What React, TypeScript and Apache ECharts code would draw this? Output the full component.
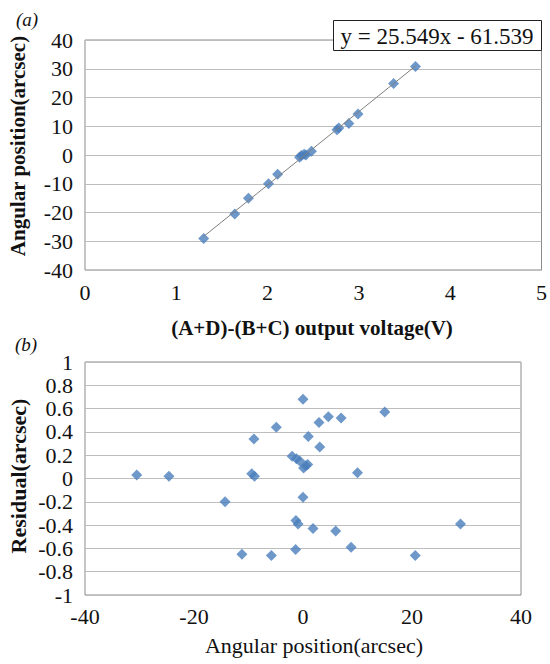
import React, { useEffect, useRef } from "react";
import * as echarts from "echarts";

// Panel (a): output voltage vs angular position
const voltage = [1.30, 1.64, 1.79, 2.01, 2.11, 2.35, 2.37, 2.40, 2.42, 2.48, 2.76, 2.78, 2.89, 2.99, 3.38, 3.62];
const angle = [-29.0, -20.5, -15.0, -10.0, -6.7, -0.8, -0.2, 0.3, 0.0, 1.3, 8.8, 9.4, 11.0, 14.3, 24.9, 30.8];
// Linear fit y = slope * x + intercept
const fitSlope = 25.549;
const fitIntercept = -61.539;
const fitRange = [1.30, 3.62];
const equationText = "y = 25.549x - 61.539";

// Panel (b): residuals
const angPos = [-30.5, -24.6, -14.3, -11.2, -9.0, -9.4, -8.9, -5.8, -4.9, -1.35, -2.0, -1.2, -0.6, -1.3, -0.9, 0.0, 0.0, 0.1, 0.86, 0.5, 0.98, 1.84, 2.94, 3.07, 4.66, 6.0, 7.0, 8.83, 10.0, 15.0, 20.6, 28.9];
const residual = [0.03, 0.02, -0.2, -0.65, 0.34, 0.04, 0.02, -0.66, 0.44, -0.61, 0.19, 0.17, 0.15, -0.36, -0.39, 0.68, -0.16, 0.09, 0.12, 0.11, 0.36, -0.43, 0.48, 0.27, 0.53, -0.45, 0.52, -0.59, 0.05, 0.57, -0.66, -0.39];

const SERIF = "Liberation Serif";
const MARK = "#4A7EBB";
const GRIDC = "#BDBDBD";
const BORDER = "#8A8A8A";
const TXT = "#111";

export default function App() {
  const ref = useRef<HTMLDivElement>(null);
  useEffect(() => {
    document.body.style.margin = "0";
    const chart = echarts.init(ref.current!, null, { renderer: "svg" });
    const mkLabel = (margin: number) => ({
      fontFamily: SERIF, fontSize: 22, color: TXT, margin,
      formatter: (v: number) => String(Math.round(v * 10) / 10),
    });
    const splitLine = { show: true, lineStyle: { color: GRIDC, width: 1 } };
    const option: any = {
      animation: false,
      backgroundColor: "#fff",
      textStyle: { fontFamily: SERIF },
      grid: [
        { left: 85, top: 40, width: 461, height: 230, show: true, borderColor: BORDER, borderWidth: 1, backgroundColor: "transparent" },
        { left: 85, top: 362, width: 436, height: 233, show: true, borderColor: BORDER, borderWidth: 1, backgroundColor: "transparent" },
      ],
      xAxis: [
        { gridIndex: 0, type: "value", min: 0, max: 5, interval: 1, axisLine: { show: false }, axisTick: { show: false }, splitLine: { show: false }, axisLabel: mkLabel(11) },
        { gridIndex: 1, type: "value", min: -40, max: 40, interval: 20, axisLine: { show: false }, axisTick: { show: false }, splitLine: { show: false }, axisLabel: mkLabel(10) },
      ],
      yAxis: [
        { gridIndex: 0, type: "value", min: -40, max: 40, interval: 10, axisLine: { show: false }, axisTick: { show: false }, splitLine, axisLabel: mkLabel(12) },
        { gridIndex: 1, type: "value", min: -1, max: 1, interval: 0.2, axisLine: { show: false }, axisTick: { show: false }, splitLine, axisLabel: mkLabel(12) },
      ],
      series: [
        {
          type: "scatter", xAxisIndex: 0, yAxisIndex: 0, symbol: "diamond", symbolSize: [11, 11],
          itemStyle: { color: MARK },
          data: voltage.map((v, i) => [v, angle[i]]),
        },
        {
          type: "line", xAxisIndex: 0, yAxisIndex: 0, showSymbol: false, symbol: "none",
          lineStyle: { color: "#7F7F7F", width: 1 }, z: 3,
          data: fitRange.map((x) => [x, fitSlope * x + fitIntercept]),
        },
        {
          type: "scatter", xAxisIndex: 1, yAxisIndex: 1, symbol: "diamond", symbolSize: [11, 11],
          itemStyle: { color: MARK },
          data: angPos.map((v, i) => [v, residual[i]]),
        },
      ],
      graphic: [
        { type: "rect", shape: { x: 333.5, y: 20.5, width: 208, height: 30 }, style: { fill: "#fff", stroke: "#222", lineWidth: 1 }, z: 10 },
        { type: "text", x: 437, y: 36, style: { text: equationText, font: `23px '${SERIF}'`, fill: TXT, textAlign: "center", textVerticalAlign: "middle" }, z: 11 },
        { type: "text", x: 16, y: 19, style: { text: "(a)", font: `italic 19px '${SERIF}'`, fill: TXT, textVerticalAlign: "middle" } },
        { type: "text", x: 15, y: 344, style: { text: "(b)", font: `italic 19px '${SERIF}'`, fill: TXT, textVerticalAlign: "middle" } },
        { type: "text", x: 312, y: 328, style: { text: "(A+D)-(B+C) output voltage(V)", font: `bold 21px '${SERIF}'`, fill: TXT, textAlign: "center", textVerticalAlign: "middle" } },
        { type: "text", x: 314, y: 645, style: { text: "Angular position(arcsec)", font: `22px '${SERIF}'`, fill: TXT, textAlign: "center", textVerticalAlign: "middle" } },
        { type: "text", x: 18, y: 146, rotation: Math.PI / 2, style: { text: "Angular position(arcsec)", font: `bold 21px '${SERIF}'`, fill: TXT, textAlign: "center", textVerticalAlign: "middle" } },
        { type: "text", x: 18, y: 476, rotation: Math.PI / 2, style: { text: "Residual(arcsec)", font: `bold 22px '${SERIF}'`, fill: TXT, textAlign: "center", textVerticalAlign: "middle" } },
      ],
    };
    chart.setOption(option);
    return () => chart.dispose();
  }, []);
  return <div ref={ref} style={{ width: 550, height: 664 }} />;
}
